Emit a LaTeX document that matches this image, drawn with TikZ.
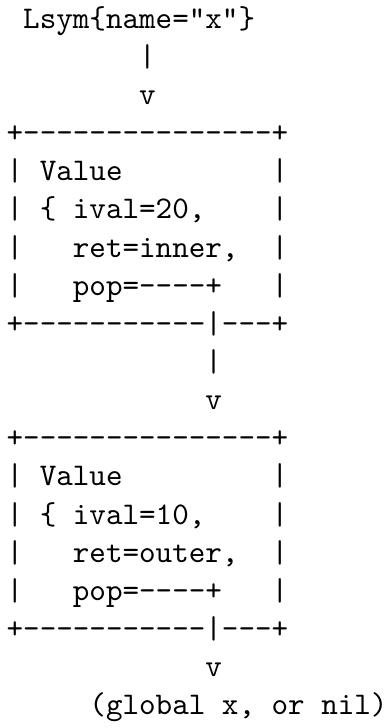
\documentclass[tikz,border=0pt]{standalone}
\begin{document}
\begin{tikzpicture}[
  x=5.25pt, y=12.09pt,
  ascii/.style={font=\ttfamily, inner sep=0pt, outer sep=0pt, anchor=base west}
]
% page frame
\useasboundingbox (0pt,0pt) rectangle (122.0pt,-230.8pt);
% one text row per unit of y, one character cell per unit of x
\begin{scope}[shift={(2.12pt,-8.97pt)}]
  \node[ascii] (sym)    at (1,0)  {Lsym\{name="x"\}};
  \node[ascii] (stemA)  at (8,-1) {|};
  \node[ascii] (tipA)   at (8,-2) {v};
  % first Value record
  \node[ascii] (topA)   at (0,-3) {+---------------+};
  \node[ascii] (rowA1)  at (0,-4) {|~Value~~~~~~~~~|};
  \node[ascii] (rowA2)  at (0,-5) {|~\{~ival=20,~~~~|};
  \node[ascii] (rowA3)  at (0,-6) {|~~~ret=inner,~~|};
  \node[ascii] (rowA4)  at (0,-7) {|~~~pop=----+~~~|};
  \node[ascii] (botA)   at (0,-8) {+-----------|---+};
  \node[ascii] (stemB)  at (12,-9)  {|};
  \node[ascii] (tipB)   at (12,-10) {v};
  % second Value record
  \node[ascii] (topB)   at (0,-11) {+---------------+};
  \node[ascii] (rowB1)  at (0,-12) {|~Value~~~~~~~~~|};
  \node[ascii] (rowB2)  at (0,-13) {|~\{~ival=10,~~~~|};
  \node[ascii] (rowB3)  at (0,-14) {|~~~ret=outer,~~|};
  \node[ascii] (rowB4)  at (0,-15) {|~~~pop=----+~~~|};
  \node[ascii] (botB)   at (0,-16) {+-----------|---+};
  \node[ascii] (tipC)   at (12,-17) {v};
  \node[ascii] (glob)   at (5,-18)  {(global x, or nil)};
\end{scope}
\end{tikzpicture}
\end{document}
